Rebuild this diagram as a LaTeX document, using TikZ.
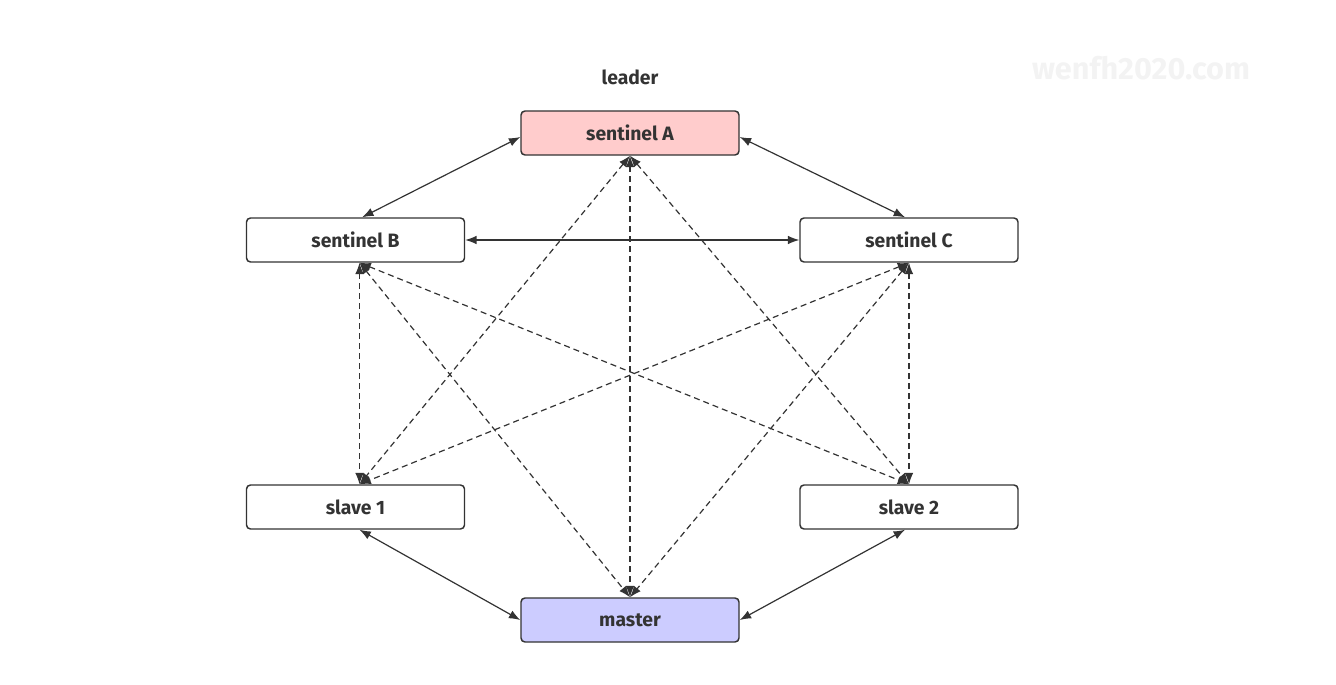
\documentclass[tikz,border=0pt]{standalone}
\usepackage{fontspec}
\setmainfont{Fira Sans}
\usetikzlibrary{arrows.meta,positioning,calc}
\definecolor{traitgris}{HTML}{333333}
\definecolor{rosechef}{HTML}{FFCCCC}
\definecolor{bleumaitre}{HTML}{CCCCFF}
\definecolor{filigrane}{HTML}{F3F3F3}

\begin{document}
\begin{tikzpicture}[x=0.75pt,y=0.75pt,
    boite/.style     = {draw=traitgris,line width=1.1pt,rounded corners=3pt,
                        minimum width=163.5pt,minimum height=33pt,inner sep=0pt,
                        font=\bfseries\fontsize{14.5}{16}\selectfont,text=traitgris},
    lien/.style      = {{Latex[length=8.5pt,width=6.5pt]}-{Latex[length=8.5pt,width=6.5pt]},
                        line width=0.9pt,draw=traitgris},
    pointille/.style = {lien,dash pattern=on 4.5pt off 3pt},
  ]

  \useasboundingbox (0,0) rectangle (1336,-685);

  % ── Sentinelles ───────────────────────────────────────────────────────────
  \node[boite,fill=rosechef] (sentA) at (630,-133)   {sentinel A};
  \node[boite,fill=white]    (sentB) at (355.5,-240) {sentinel B};
  \node[boite,fill=white]    (sentC) at (909,-240)   {sentinel C};
  \node[font=\bfseries\fontsize{14.5}{16}\selectfont,text=traitgris] (chef) at (630,-77) {leader};

  % ── Esclaves et maître ────────────────────────────────────────────────────
  \node[boite,fill=white]      (esclaveA) at (355.5,-507) {slave 1};
  \node[boite,fill=white]      (esclaveB) at (909,-507)   {slave 2};
  \node[boite,fill=bleumaitre] (maitre)   at (630,-620)   {master};

  % ── Filigrane ─────────────────────────────────────────────────────────────
  \node[font=\bfseries\fontsize{23}{26}\selectfont,text=filigrane] (wm) at (1141,-68) {wenfh2020.com};

  % ── Liens pleins ──────────────────────────────────────────────────────────
  \draw[lien] ([xshift=5pt]sentB.north) -- ([yshift=-3pt]sentA.west);
  \draw[lien] ([yshift=-3pt]sentA.east) -- ([xshift=-3pt]sentC.north);
  \draw[lien] (sentB.east) -- (sentC.west);
  \draw[lien] ([xshift=3pt]esclaveA.south) -- (maitre.west);
  \draw[lien] ([xshift=-3pt]esclaveB.south) -- (maitre.east);

  % ── Liens en pointillés ───────────────────────────────────────────────────
  \draw[pointille] ([xshift=3pt]sentB.south) -- ([xshift=3pt]esclaveA.north);
  \draw[pointille] (sentC.south) -- (esclaveB.north);
  \draw[pointille] (sentA.south) -- (maitre.north);
  \draw[pointille] (sentA.south) -- ([xshift=3pt]esclaveA.north);
  \draw[pointille] (sentA.south) -- (esclaveB.north);
  \draw[pointille] ([xshift=3pt]sentB.south) -- (maitre.north);
  \draw[pointille] (sentC.south) -- (maitre.north);
  \draw[pointille] ([xshift=3pt]sentB.south) -- (esclaveB.north);
  \draw[pointille] (sentC.south) -- ([xshift=3pt]esclaveA.north);

\end{tikzpicture}
\end{document}
